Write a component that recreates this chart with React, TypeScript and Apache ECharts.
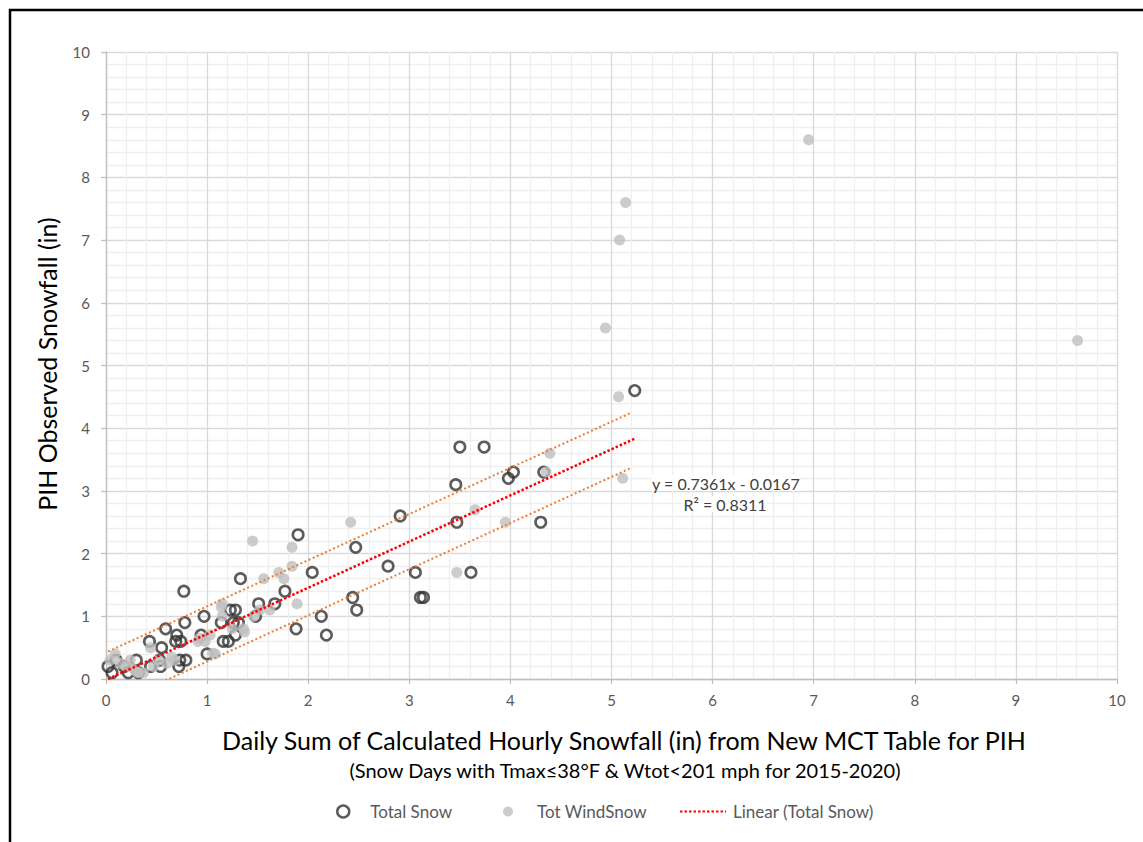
import React, { useEffect, useRef } from "react";
import * as echarts from "echarts";

// Observed vs calculated daily snowfall (in), Total Snow days (open rings)
const totalSnow: [number, number][] = [
  [5.23, 4.6],
  [3.5, 3.7], [3.74, 3.7],
  [4.03, 3.3], [3.98, 3.2], [4.33, 3.3],
  [3.46, 3.1],
  [3.47, 2.5], [4.3, 2.5],
  [2.91, 2.6],
  [2.47, 2.1], [1.9, 2.3],
  [2.04, 1.7], [2.79, 1.8], [3.06, 1.7], [3.61, 1.7],
  [3.11, 1.3], [3.14, 1.3], [2.44, 1.3], [2.48, 1.1],
  [2.13, 1.0], [2.18, 0.7], [1.88, 0.8],
  [1.77, 1.4], [1.67, 1.2], [1.51, 1.2], [1.48, 1.0],
  [1.33, 1.6], [0.77, 1.4],
  [1.23, 1.1], [1.28, 1.1], [1.26, 0.9], [1.31, 0.9], [1.14, 0.9],
  [1.16, 0.6], [1.21, 0.6], [1.28, 0.7],
  [0.97, 1.0], [0.78, 0.9], [0.94, 0.7], [1.0, 0.4],
  [0.59, 0.8], [0.43, 0.6], [0.55, 0.5], [0.7, 0.7], [0.69, 0.6], [0.74, 0.6],
  [0.79, 0.3], [0.73, 0.3], [0.72, 0.2], [0.53, 0.3], [0.54, 0.2], [0.44, 0.2],
  [0.3, 0.3], [0.32, 0.1], [0.22, 0.1], [0.18, 0.2],
  [0.02, 0.2], [0.06, 0.1], [0.1, 0.3],
];

// Wind-adjusted snowfall days (grey dots)
const windSnow: [number, number][] = [
  [6.95, 8.6], [5.14, 7.6], [5.08, 7.0], [4.94, 5.6], [9.61, 5.4],
  [5.07, 4.5], [4.39, 3.6], [4.35, 3.3], [5.11, 3.2],
  [3.65, 2.7], [3.95, 2.5], [3.47, 1.7], [2.42, 2.5],
  [1.45, 2.2], [1.84, 2.1], [1.84, 1.8], [1.71, 1.7], [1.76, 1.6], [1.56, 1.6],
  [1.89, 1.2], [1.15, 1.2], [1.62, 1.1], [1.52, 1.1], [1.46, 1.0], [1.15, 1.0],
  [1.14, 1.15], [1.06, 0.41],
  [1.36, 0.8], [1.37, 0.75], [1.25, 0.8], [1.03, 0.7], [0.91, 0.6], [0.98, 0.6], [1.08, 0.4],
  [0.93, 0.65],
  [0.65, 0.35], [0.6, 0.25], [0.47, 0.2], [0.44, 0.5], [0.37, 0.1], [0.32, 0.1],
  [0.24, 0.3], [0.14, 0.25], [0.09, 0.4], [0.04, 0.3], [0.2, 0.2], [0.52, 0.3],
  [0.68, 0.3], [0.28, 0.15], [0.3, 0.12],
];

// Linear fit of Total Snow: y = 0.7361x - 0.0167
const fitSlope = 0.7361;
const fitIntercept = -0.0167;
const fitRange = [0.02, 5.23];
const bandOffset = 0.44;
const bandRange = [0.02, 5.2];

const axisTicks = [0, 10];

const FONT = "Lato, 'Open Sans', sans-serif";

const fitLine = fitRange.map((x) => [x, fitSlope * x + fitIntercept]);
const upperBand = bandRange.map((x) => [x, fitSlope * x + fitIntercept + bandOffset]);
const lowerBand = bandRange.map((x) => [x, fitSlope * x + fitIntercept - bandOffset]);

function makeAxis(labelMargin: number) {
  return {
    type: "value" as const,
    min: axisTicks[0],
    max: axisTicks[1],
    interval: 1,
    axisLine: { show: true, lineStyle: { color: "#bfbfbf", width: 1.3 } },
    axisTick: { show: true, length: 5, lineStyle: { color: "#bfbfbf", width: 1.3 } },
    axisLabel: { color: "#595959", fontSize: 15, margin: labelMargin, fontFamily: FONT },
    splitLine: { show: true, lineStyle: { color: "#d9d9d9", width: 1.3 } },
    minorTick: { show: false, splitNumber: 5 },
    minorSplitLine: { show: true, lineStyle: { color: "#efefef", width: 1.3 } },
  };
}

const legendText = { fontSize: 17, color: "#595959", fontFamily: FONT };

export default function App() {
  const ref = useRef<HTMLDivElement>(null);

  useEffect(() => {
    document.body.style.margin = "0";
    const chart = echarts.init(ref.current!, null, { renderer: "svg" });
    chart.setOption({
      animation: false,
      backgroundColor: "#ffffff",
      textStyle: { fontFamily: FONT },
      grid: { left: 106, top: 52, right: 26, bottom: 163 },
      xAxis: makeAxis(13),
      yAxis: makeAxis(16),
      legend: [
        {
          data: [
            {
              name: "Total Snow",
              icon: "circle",
              itemStyle: { color: "rgba(255,255,255,0)", borderColor: "#333333", borderWidth: 2.5 },
            },
          ],
          left: 331,
          top: 798,
          itemWidth: 12,
          itemHeight: 12,
          textStyle: { ...legendText, padding: [0, 0, 0, 16] },
        },
        {
          data: [{ name: "Tot WindSnow", icon: "circle", itemStyle: { color: "#bfbfbf" } }],
          left: 498,
          top: 798,
          itemWidth: 10,
          itemHeight: 10,
          textStyle: { ...legendText, padding: [0, 0, 0, 19] },
        },
        {
          data: [{ name: "Linear (Total Snow)", itemStyle: { opacity: 0 } }],
          left: 674,
          top: 798,
          itemWidth: 46,
          itemHeight: 12,
          textStyle: { ...legendText, padding: [0, 0, 0, 2] },
        },
      ],
      graphic: [
        {
          type: "rect",
          shape: { x: 10, y: 10, width: 1150, height: 850 },
          style: { fill: "none", stroke: "#000000", lineWidth: 2.5 },
          silent: true,
          z: 100,
        },
        {
          type: "text",
          x: 624,
          y: 740,
          z: 100,
          style: {
            text: "Daily Sum of Calculated Hourly Snowfall (in) from New MCT Table for PIH",
            fontSize: 25,
            fontFamily: FONT,
            fill: "#000000",
            align: "center",
            verticalAlign: "middle",
          },
        },
        {
          type: "text",
          x: 625,
          y: 770,
          z: 100,
          style: {
            text: "(Snow Days with Tmax\u226438\u00B0F & Wtot<201 mph for 2015-2020)",
            fontSize: 20,
            fontFamily: FONT,
            fill: "#000000",
            align: "center",
            verticalAlign: "middle",
          },
        },
        {
          type: "text",
          x: 47,
          y: 364,
          z: 100,
          rotation: Math.PI / 2,
          style: {
            text: "PIH Observed Snowfall (in)",
            fontSize: 25,
            fontFamily: FONT,
            fill: "#000000",
            align: "center",
            verticalAlign: "middle",
          },
        },
        {
          type: "text",
          x: 726,
          y: 483,
          z: 100,
          style: {
            text: "y = 0.7361x - 0.0167",
            fontSize: 16,
            fontFamily: FONT,
            fill: "#404040",
            align: "center",
            verticalAlign: "middle",
            backgroundColor: "#ffffff",
          },
        },
        {
          type: "text",
          x: 725,
          y: 504,
          z: 100,
          style: {
            text: "R\u00B2 = 0.8311",
            fontSize: 16,
            fontFamily: FONT,
            fill: "#404040",
            align: "center",
            verticalAlign: "middle",
            backgroundColor: "#ffffff",
          },
        },
      ],
      series: [
        {
          name: "Total Snow",
          type: "scatter",
          data: totalSnow,
          symbol: "circle",
          symbolSize: 10.5,
          itemStyle: { color: "rgba(255,255,255,0)", borderColor: "#333333", borderWidth: 2.6 },
          z: 3,
        },
        {
          name: "Tot WindSnow",
          type: "scatter",
          data: windSnow,
          symbol: "circle",
          symbolSize: 11,
          itemStyle: { color: "#bfbfbf" },
          z: 4,
        },
        {
          name: "Upper band",
          type: "line",
          data: upperBand,
          symbol: "none",
          lineStyle: { color: "#ed7d31", width: 2, type: [2, 2.5] },
          z: 5,
        },
        {
          name: "Lower band",
          type: "line",
          data: lowerBand,
          symbol: "none",
          lineStyle: { color: "#ed7d31", width: 2, type: [2, 2.5] },
          z: 5,
        },
        {
          name: "Linear (Total Snow)",
          type: "line",
          data: fitLine,
          symbol: "none",
          lineStyle: { color: "#ff0000", width: 2.5, type: [2.5, 2] },
          z: 6,
        },
      ],
    });
    return () => chart.dispose();
  }, []);

  return <div ref={ref} style={{ width: 1143, height: 842, background: "#ffffff" }} />;
}
